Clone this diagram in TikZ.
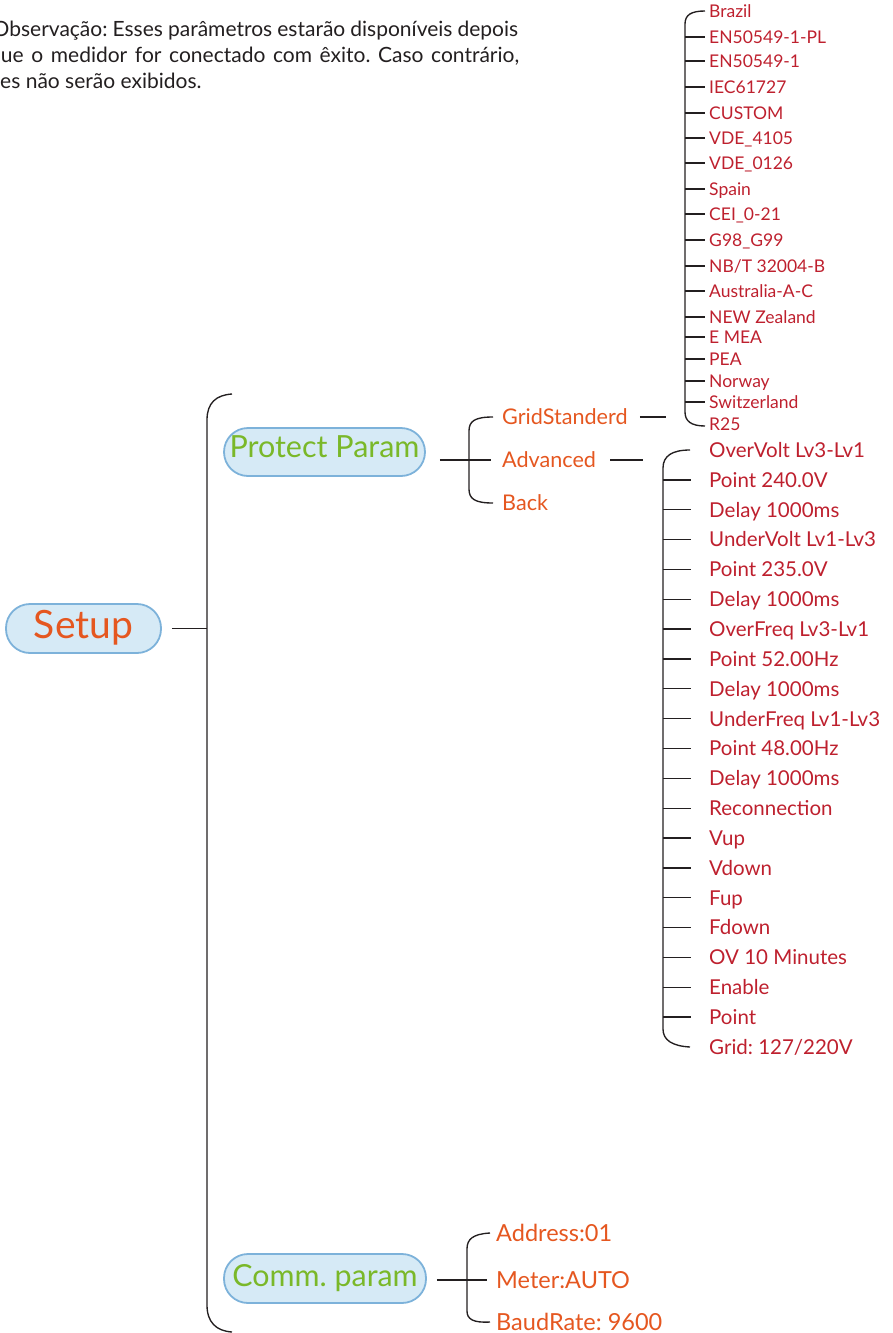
\documentclass[tikz,border=0pt]{standalone}
\usepackage{fontspec}
\setmainfont{Lato}
\usetikzlibrary{calc}
\frenchspacing
\definecolor{orng}{RGB}{229,87,32}
\definecolor{redt}{RGB}{190,32,46}
\definecolor{grn}{RGB}{122,184,41}
\definecolor{pillfill}{RGB}{214,234,246}
\definecolor{pilldraw}{RGB}{125,178,218}
\definecolor{ink}{RGB}{35,31,32}
\begin{document}
\frenchspacing
\begin{tikzpicture}[x=1pt,y=-1pt,
  pill/.style={draw=pilldraw, fill=pillfill, line width=1.8pt, rounded corners=24pt, inner sep=0pt},
  ln/.style={draw=ink, line width=1.35pt},
  tl/.style={anchor=west, inner sep=0pt, text=redt, font=\fontsize{17.5}{20}\selectfont, text height=12.5pt, text depth=0pt},
  al/.style={anchor=west, inner sep=0pt, text=redt, font=\fontsize{20.5}{23}\selectfont, text height=14.7pt, text depth=0pt},
  sl/.style={anchor=west, inner sep=0pt, text=orng, font=\fontsize{21.6}{24}\selectfont, text height=15.5pt, text depth=0pt},
  cl/.style={anchor=west, inner sep=0pt, text=orng, font=\fontsize{23.5}{26}\selectfont, text height=16.8pt, text depth=0pt},
  obs/.style={anchor=base west, inner sep=0pt, text=ink, font=\fontsize{21}{26}\selectfont}
]
\useasboundingbox (0,0) rectangle (892,1333);

% note text
\node[obs] (o1) at (-7.5,36.5) {\makebox[525.5pt][s]{Observação: Esses parâmetros estarão disponíveis depois}};
\node[obs] (o2) at (-11,62.5) {\makebox[530pt][s]{que o medidor for conectado com êxito. Caso contrário,}};
\node[obs] (o3) at (-16,88) {eles não serão exibidos.};

% main nodes
\node[pill, minimum width=155pt, minimum height=49pt, text=orng, font=\fontsize{39}{40}\selectfont, text height=28pt, text depth=9pt] (setup) at (83.5,628.5) {Setup};
\node[pill, minimum width=201pt, minimum height=48pt, text=grn, font=\fontsize{30.5}{31}\selectfont, text height=22pt, text depth=11.4pt] (pp) at (324.5,452) {Protect Param};
\node[pill, minimum width=202pt, minimum height=49pt, text=grn, font=\fontsize{30.4}{31}\selectfont, text height=22pt, text depth=5.8pt] (cp) at (325,1278.5) {Comm. param};

% main bracket
\coordinate (mx) at (207,0);
\coordinate (mtop) at (232,394);
\coordinate (mbot) at (232,1332);
\draw[ln] (mtop) .. controls (216,395) and (207,403) .. (207,420) -- (207,1305) .. controls (207,1322) and (216,1331) .. (mbot);
\draw[ln] ([xshift=10pt]setup.east) -- (setup.east -| mx);

% protect param children
\node[sl] (gs) at (502,417) {GridStanderd};
\node[sl] (adv) at (502,460) {Advanced};
\node[sl] (back) at (502,503) {Back};
\draw[ln] ([xshift=-9pt]gs.west) .. controls (475,417) and (469,421) .. (469,431) -- (469,489) .. controls (469,499) and (475,503) .. ([xshift=-9pt]back.west);
\draw[ln] ([xshift=14pt]pp.east |- adv.west) -- ([xshift=-11pt]adv.west);
\coordinate (gsend) at (666,417);
\draw[ln] ([xshift=12pt]gs.east) -- (gsend);
\coordinate (advend) at (643,460);
\draw[ln] ([xshift=14pt]adv.east) -- (advend);

% grid standard list
\node[tl] (t1) at (709,11) {Brazil};
\node[tl] (t2) at (709,37) {EN50549-1-PL};
\node[tl] (t3) at (709,61) {EN50549-1};
\node[tl] (t4) at (709,87) {IEC61727};
\node[tl] (t5) at (709,113) {CUSTOM};
\node[tl] (t6) at (709,138) {VDE\_4105};
\node[tl] (t7) at (709,163) {VDE\_0126};
\node[tl] (t8) at (709,189) {Spain};
\node[tl] (t9) at (709,214) {CEI\_0-21};
\node[tl] (t10) at (709,240) {G98\_G99};
\node[tl] (t11) at (709,266) {NB/T 32004-B};
\node[tl] (t12) at (709,291) {Australia-A-C};
\node[tl] (t13) at (709,317) {NEW Zealand};
\node[tl] (t14) at (709,337) {E MEA};
\node[tl] (t15) at (709,359) {PEA};
\node[tl] (t16) at (709,381) {Norway};
\node[tl] (t17) at (709,402) {Switzerland};
\node[tl] (t18) at (709,424) {R25};
\coordinate (tx) at (685,0);
\draw[ln] ([xshift=-4pt]t1.west) .. controls (691,11) and (685,15) .. (685,24) -- (685,412) .. controls (685,421) and (691,426) .. ([xshift=-4pt,yshift=-2pt]t18.west);
\foreach \n in {2,...,17} \draw[ln] (tx |- t\n.west) -- ([xshift=-4pt]t\n.west);

% advanced list
\node[al] (a1) at (709,450.00) {OverVolt Lv3-Lv1};
\node[al] (a2) at (709,479.85) {Point 240.0V};
\node[al] (a3) at (709,509.70) {Delay 1000ms};
\node[al] (a4) at (709,539.55) {UnderVolt Lv1-Lv3};
\node[al] (a5) at (709,569.40) {Point 235.0V};
\node[al] (a6) at (709,599.25) {Delay 1000ms};
\node[al] (a7) at (709,629.10) {OverFreq Lv3-Lv1};
\node[al] (a8) at (709,658.95) {Point 52.00Hz};
\node[al] (a9) at (709,688.80) {Delay 1000ms};
\node[al] (a10) at (709,718.65) {UnderFreq Lv1-Lv3};
\node[al] (a11) at (709,748.50) {Point 48.00Hz};
\node[al] (a12) at (709,778.35) {Delay 1000ms};
\node[al] (a13) at (709,808.20) {Reconnection};
\node[al] (a14) at (709,838.05) {Vup};
\node[al] (a15) at (709,867.90) {Vdown};
\node[al] (a16) at (709,897.75) {Fup};
\node[al] (a17) at (709,927.60) {Fdown};
\node[al] (a18) at (709,957.45) {OV 10 Minutes};
\node[al] (a19) at (709,987.30) {Enable};
\node[al] (a20) at (709,1017.15) {Point};
\node[al] (a21) at (709,1047.00) {Grid: 127/220V};
\coordinate (ax) at (663,0);
\draw[ln] ([xshift=-19pt]a1.west) .. controls (672,450) and (663,456) .. (663,468) -- (663,1029) .. controls (663,1040) and (672,1046) .. ([xshift=-19pt]a21.west);
\foreach \n in {2,...,20} \draw[ln] (ax |- a\n.west) -- ([xshift=-18pt]a\n.west);

% comm param children
\node[cl] (c1) at (496,1233) {Address:01};
\node[cl] (c2) at (496,1280) {Meter:AUTO};
\node[cl] (c3) at (496,1322) {BaudRate: 9600};
\draw[ln] ([xshift=-6pt]c1.west) .. controls (473,1234) and (467,1239) .. (467,1249) -- (467,1311) .. controls (467,1319) and (473,1323) .. ([xshift=-6pt]c3.west);
\draw[ln] ([xshift=10pt]cp.east |- c2.west) -- ([xshift=-9pt]c2.west);
\end{tikzpicture}
\end{document}
